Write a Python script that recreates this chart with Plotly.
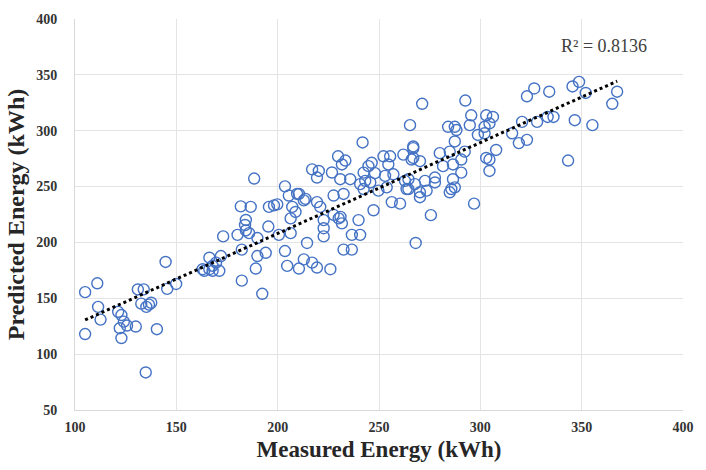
import numpy as np
import plotly.graph_objects as go

# Measured (x) and predicted (y) energy, kWh
measured = [
    105, 111, 111.4, 112.6, 105, 144.7, 131, 133.9, 132.7, 136.5, 137.6, 135.2,
    145.5, 149.9, 121.3, 122.9, 124.1, 122.1, 125.7, 122.9, 130, 140.4, 134.9,
    188.4, 203.6, 181.8, 186.7, 195.7, 198.2, 199.8, 205.5, 209.6, 207.2, 208.8,
    206.4, 212.9, 184.3, 183.9, 184.3, 195.4, 173.1, 180.2, 185.9, 190, 200.6,
    206.4, 182.3, 190, 194.1, 203.6, 166.3, 172, 163, 166.3, 171.2, 167.9,
    189.2, 204.7, 210.5, 182.3, 192.4, 214.5, 212.9, 163.8, 167.9, 169.6,
    241.9, 265.3, 229.8, 233.4, 231.7, 217, 220.3, 219.4, 226.8, 230.9, 235.8,
    242.4, 244.8, 243.2, 240.7, 245.7, 242.4, 252.2, 255.5, 254.6, 253, 257.1,
    249.7, 253.8, 262, 266.9, 266.1, 262.8, 263.6, 267.7, 210.5, 213.7, 219.4,
    221, 227.6, 232.5, 247.3, 256.3, 260.4, 222.7, 222.7, 222.7, 227.6, 230.1,
    231.7, 239.9, 236.6, 240.7, 232.5, 236.6, 217, 219.4, 226, 231,
    271.3, 292.6, 326.6, 323, 295.5, 294.8, 284.1, 287.4, 288.2, 302.9, 306.2,
    304.5, 302.1, 298.8, 302.1, 320.6, 328, 315.7, 319, 323, 287.4, 266.9,
    266.9, 270.2, 280, 284.9, 292.3, 290.6, 307.8, 302.9, 304.5, 304.5, 281.6,
    286.5, 286.5, 290.6, 264.5, 272.7, 277.6, 277.6, 285.7, 287.4, 284.9, 264.5,
    270.2, 273.5, 270.2, 296.9, 275.6, 268.1, 348.7, 345.5, 352, 367.5, 365.1,
    334, 333.2, 336.1, 346.6, 355.3, 343.3, 246.4, 248,
]
predicted = [
    155.5, 163.4, 142.3, 130.9, 118, 182.5, 157.9, 158, 145.2, 144.3, 146, 142.3,
    158.4, 162.8, 137.9, 135, 129.1, 123.2, 125.6, 114.4, 124.7, 122.3, 83.6,
    257.2, 250.2, 232.3, 231.8, 231.8, 233.2, 234.1, 242, 243.4, 231.8, 227.3,
    221.5, 237.6, 220.1, 215.6, 210.7, 214.2, 205.4, 206.8, 208.3, 203.9, 206.8,
    208.3, 193.6, 187.8, 190.7, 192.3, 186.3, 187.8, 176, 176, 174.6, 179.1,
    176.6, 179, 176.6, 165.8, 154, 199.5, 184.8, 174.6, 174.6, 181.9,
    289.5, 305, 277.1, 273.3, 269.8, 265.4, 264, 258.1, 262.6, 256.6, 256.6,
    262.5, 268.3, 255.1, 252.2, 253.7, 247.8, 277.1, 277.1, 269.8, 259.6, 261,
    246.4, 249.3, 278.6, 284.4, 274.2, 255.1, 247.8, 252.2, 243.4, 239, 236.1,
    231.8, 242, 243.4, 228.8, 236.1, 234.7, 220, 212.7, 205.4, 224.7, 221.5,
    217.1, 220, 206.8, 206.8, 193.6, 193.6, 181.9, 177.5, 176, 222.9,
    324.1, 327, 337.8, 330.8, 313.8, 305, 303.5, 303.5, 300.6, 313.8, 312.3,
    306.5, 303.5, 296.2, 297.7, 307.9, 307.9, 297.7, 288.9, 291.8, 290.4, 285.9,
    275.6, 272.7, 279.9, 281.3, 281.3, 274.2, 282.8, 275.6, 274.2, 264, 268.3,
    269.8, 256.6, 262.5, 256.6, 255.1, 258.1, 253.7, 247.8, 249.3, 244.9, 247.8,
    244.9, 246.4, 240.5, 234.7, 224.4, 199.5, 343.7, 339.6, 333.8, 334.9, 324.1,
    334.9, 312.3, 312.3, 309.4, 305, 273.3, 271.3, 262,
]

x_ticks = [100, 150, 200, 250, 300, 350, 400]
y_ticks = [50, 100, 150, 200, 250, 300, 350, 400]
r2_label = "R² = 0.8136"

xa = np.array(measured, dtype=float)
ya = np.array(predicted, dtype=float)
slope, intercept = np.polyfit(xa, ya, 1)
trend_x = [xa.min(), xa.max()]
trend_y = [slope * v + intercept for v in trend_x]

serif = "Liberation Serif, Times New Roman, serif"

fig = go.Figure()
fig.add_trace(go.Scatter(
    x=measured, y=predicted, mode="markers",
    marker=dict(symbol="circle-open", size=11, color="#4472C4",
                line=dict(width=1.4, color="#4472C4")),
    showlegend=False, hoverinfo="x+y",
))
fig.add_trace(go.Scatter(
    x=trend_x, y=trend_y, mode="lines",
    line=dict(color="black", width=3, dash="dot"),
    showlegend=False, hoverinfo="skip",
))

fig.add_annotation(
    x=361, y=376, xref="x", yref="y", text=r2_label, showarrow=False,
    font=dict(family=serif, size=18, color="#404040"),
)

fig.update_layout(
    width=706, height=470,
    margin=dict(l=75, r=20, t=12, b=60),
    paper_bgcolor="white", plot_bgcolor="white",
    font=dict(family=serif, color="#404040"),
)
fig.update_xaxes(
    range=[100, 400], tickvals=x_ticks, ticktext=[f"<b>{v}</b>" for v in x_ticks],
    showgrid=True, gridcolor="#e4e4e4", gridwidth=1,
    showline=True, linecolor="#d9d9d9", linewidth=1, zeroline=False,
    ticks="", ticklabelstandoff=4,
    tickfont=dict(family=serif, size=14, color="#333333"),
    title=dict(text="<b>Measured Energy (kWh)</b>", standoff=7,
               font=dict(family=serif, size=23, color="#262626")),
)
fig.update_yaxes(
    range=[50, 400], tickvals=y_ticks, ticktext=[f"<b>{v}</b>" for v in y_ticks],
    showgrid=True, gridcolor="#e4e4e4", gridwidth=1,
    showline=True, linecolor="#d9d9d9", linewidth=1, zeroline=False,
    ticks="", ticklabelstandoff=14,
    tickfont=dict(family=serif, size=14, color="#333333"),
    title=dict(text="<b>Predicted Energy (kWh)</b>", standoff=4,
               font=dict(family=serif, size=24, color="#262626")),
)

fig.write_html("out.html")
